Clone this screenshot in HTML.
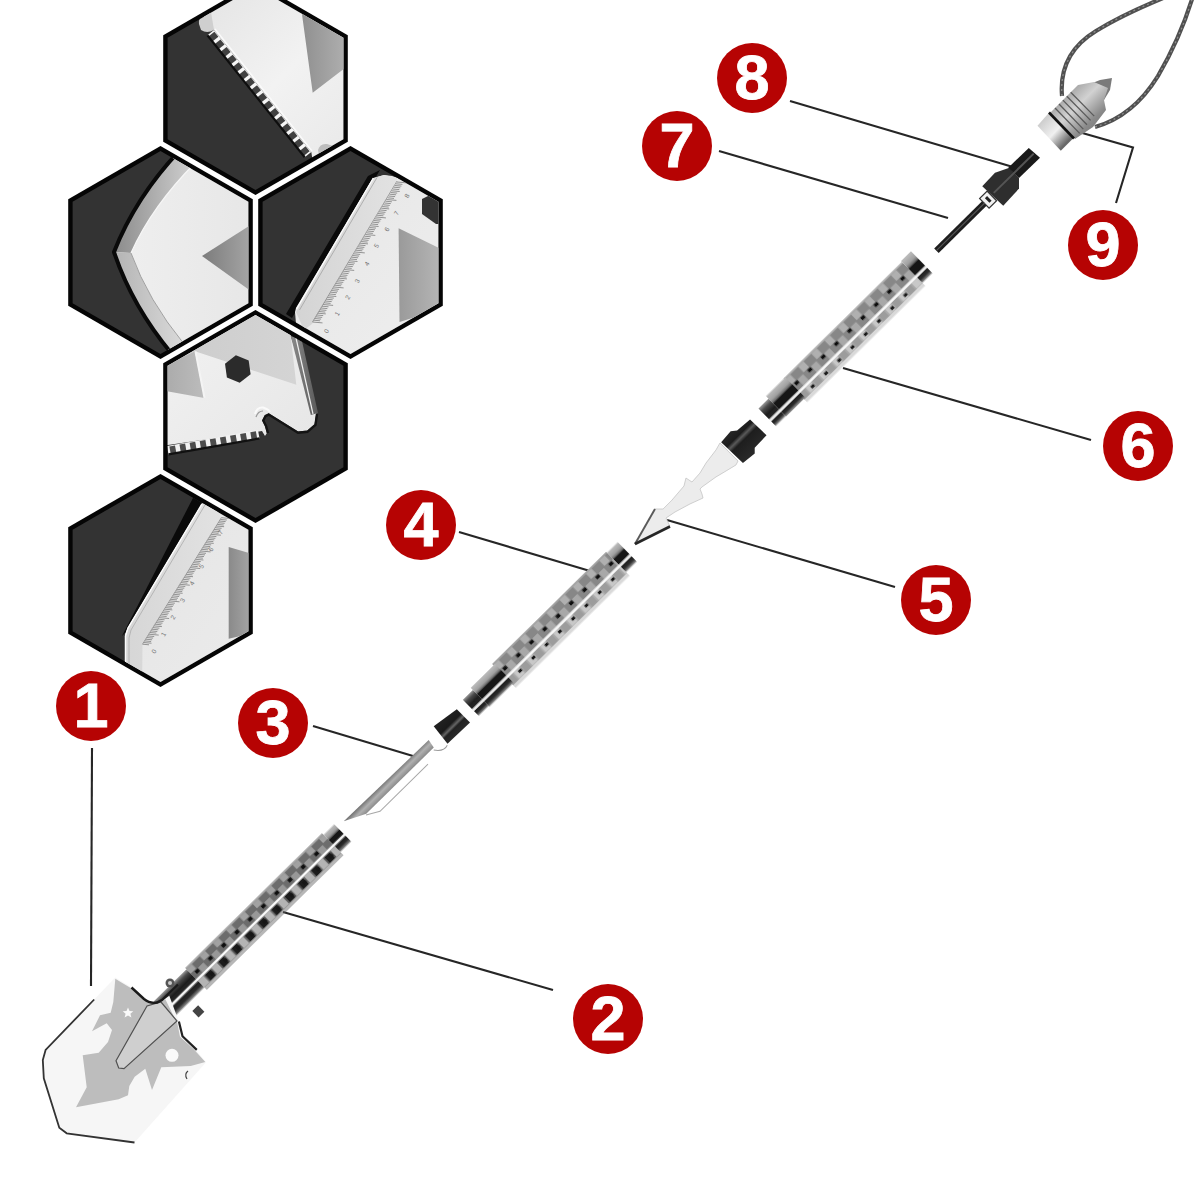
<!DOCTYPE html>
<html><head><meta charset="utf-8"><style>html,body{margin:0;padding:0;background:#fff;width:1200px;height:1200px;overflow:hidden}svg{display:block}</style></head>
<body><svg width="1200" height="1200" viewBox="0 0 1200 1200">
<defs><clipPath id="hc1"><polygon points="255.5,-13.0 343.4,37.7 343.4,139.3 255.5,190.0 167.6,139.3 167.6,37.7"/></clipPath><clipPath id="hc2"><polygon points="160.5,151.0 248.4,201.7 248.4,303.3 160.5,354.0 72.6,303.3 72.6,201.7"/></clipPath><clipPath id="hc3"><polygon points="350.5,151.0 438.4,201.7 438.4,303.3 350.5,354.0 262.6,303.3 262.6,201.7"/></clipPath><clipPath id="hc4"><polygon points="255.5,315.0 343.4,365.7 343.4,467.3 255.5,518.0 167.6,467.3 167.6,365.7"/></clipPath><clipPath id="hc5"><polygon points="160.5,479.0 248.4,529.7 248.4,631.3 160.5,682.0 72.6,631.3 72.6,529.7"/></clipPath>
<linearGradient id="g1body" x1="0" y1="0" x2="1" y2="1"><stop offset="0" stop-color="#e4e4e4"/><stop offset="0.5" stop-color="#f2f2f2"/><stop offset="1" stop-color="#e8e8e8"/></linearGradient>
<linearGradient id="g1tri" x1="0" y1="0" x2="1" y2="0"><stop offset="0" stop-color="#8f8f8f"/><stop offset="1" stop-color="#b9b9b9"/></linearGradient>
<linearGradient id="g2body" x1="0" y1="0" x2="1" y2="0"><stop offset="0" stop-color="#efefef"/><stop offset="1" stop-color="#e6e6e6"/></linearGradient>
<linearGradient id="g2up" x1="0" y1="0" x2="1" y2="0"><stop offset="0" stop-color="#8c8c8c"/><stop offset="1" stop-color="#d2d2d2"/></linearGradient>
<linearGradient id="g2lo" x1="0" y1="0" x2="1" y2="0"><stop offset="0" stop-color="#b4b4b4"/><stop offset="1" stop-color="#dadada"/></linearGradient>
<linearGradient id="g2tri" x1="0" y1="0" x2="1" y2="0"><stop offset="0" stop-color="#7c7c7c"/><stop offset="1" stop-color="#a6a6a6"/></linearGradient>
<linearGradient id="g3body" x1="0" y1="0" x2="1" y2="1"><stop offset="0" stop-color="#e6e6e6"/><stop offset="1" stop-color="#efefef"/></linearGradient>
<linearGradient id="g3band" x1="0" y1="0" x2="1" y2="0"><stop offset="0" stop-color="#d4d4d4"/><stop offset="1" stop-color="#e2e2e2"/></linearGradient>
<linearGradient id="g5band" x1="0" y1="0" x2="1" y2="0"><stop offset="0" stop-color="#d6d6d6"/><stop offset="1" stop-color="#e2e2e2"/></linearGradient>
<linearGradient id="g3panel" x1="0" y1="0" x2="1" y2="0"><stop offset="0" stop-color="#9a9a9a"/><stop offset="1" stop-color="#b8b8b8"/></linearGradient>
<linearGradient id="g4body" x1="0" y1="0" x2="1" y2="1"><stop offset="0" stop-color="#f4f4f4"/><stop offset="1" stop-color="#e6e6e6"/></linearGradient>
<linearGradient id="g4top" x1="0" y1="0" x2="1" y2="0"><stop offset="0" stop-color="#cbcbcb"/><stop offset="1" stop-color="#d4d4d4"/></linearGradient>
<linearGradient id="g4left" x1="0" y1="0" x2="1" y2="0"><stop offset="0" stop-color="#a4a4a4"/><stop offset="1" stop-color="#bcbcbc"/></linearGradient>
<linearGradient id="g4mid" x1="0" y1="0" x2="1" y2="0"><stop offset="0" stop-color="#e4e4e4"/><stop offset="1" stop-color="#bcbcbc"/></linearGradient>
<linearGradient id="g4strip" x1="0" y1="0" x2="1" y2="0"><stop offset="0" stop-color="#8a8a8a"/><stop offset="1" stop-color="#5a5a5a"/></linearGradient>
<linearGradient id="g5body" x1="0" y1="0" x2="1" y2="1"><stop offset="0" stop-color="#e4e4e4"/><stop offset="1" stop-color="#ececec"/></linearGradient>
<linearGradient id="g5panel" x1="0" y1="0" x2="1" y2="0"><stop offset="0" stop-color="#8a8a8a"/><stop offset="1" stop-color="#b0b0b0"/></linearGradient>

<linearGradient id="kgrad" x1="0" y1="0" x2="0" y2="1"><stop offset="0" stop-color="#666"/><stop offset="0.5" stop-color="#888"/><stop offset="1" stop-color="#bbb"/></linearGradient>
<linearGradient id="cgradU" x1="0" y1="0" x2="0" y2="1"><stop offset="0" stop-color="#9a9a9a"/><stop offset="0.25" stop-color="#4a4a4a"/><stop offset="0.6" stop-color="#1e1e1e"/><stop offset="1" stop-color="#2a2a2a"/></linearGradient>
<linearGradient id="cgradL" x1="0" y1="0" x2="0" y2="1"><stop offset="0" stop-color="#1a1a1a"/><stop offset="0.6" stop-color="#2a2a2a"/><stop offset="1" stop-color="#9a9a9a"/></linearGradient>
<linearGradient id="cgradLight" x1="0" y1="0" x2="0" y2="1"><stop offset="0" stop-color="#bdbdbd"/><stop offset="0.6" stop-color="#a0a0a0"/><stop offset="1" stop-color="#555"/></linearGradient>
<linearGradient id="dgrad65" x1="0" y1="0" x2="0" y2="1"><stop offset="0" stop-color="#262626"/><stop offset="0.26" stop-color="#1c1c1c"/><stop offset="0.36" stop-color="#5a5a5a"/><stop offset="0.47" stop-color="#1e1e1e"/><stop offset="1" stop-color="#2a2a2a"/></linearGradient>
<filter id="soft" x="-5%" y="-20%" width="110%" height="140%"><feGaussianBlur stdDeviation="0.75"/></filter>
<linearGradient id="dgrad" x1="0" y1="0" x2="0" y2="1"><stop offset="0" stop-color="#222"/><stop offset="0.45" stop-color="#1a1a1a"/><stop offset="0.6" stop-color="#666"/><stop offset="0.7" stop-color="#222"/><stop offset="1" stop-color="#2a2a2a"/></linearGradient>
<linearGradient id="b3grad" x1="0" y1="0" x2="0" y2="1"><stop offset="0" stop-color="#707070"/><stop offset="0.5" stop-color="#b0b0b0"/><stop offset="1" stop-color="#8a8a8a"/></linearGradient>
<linearGradient id="capgrad" x1="0" y1="0" x2="1" y2="1"><stop offset="0" stop-color="#707070"/><stop offset="0.45" stop-color="#d2d2d2"/><stop offset="0.7" stop-color="#8a8a8a"/><stop offset="1" stop-color="#666"/></linearGradient>
<linearGradient id="capgrad2" x1="0" y1="0" x2="1" y2="1"><stop offset="0" stop-color="#bbb"/><stop offset="0.5" stop-color="#f0f0f0"/><stop offset="0.8" stop-color="#666"/><stop offset="1" stop-color="#999"/></linearGradient>
</defs>
<rect width="1200" height="1200" fill="#fff"/>
<polygon points="255.5,-18.1 347.8,35.2 347.8,141.8 255.5,195.1 163.2,141.8 163.2,35.2" fill="#050505"/><g clip-path="url(#hc1)"><polygon points="255.5,-18.1 347.8,35.2 347.8,141.8 255.5,195.1 163.2,141.8 163.2,35.2" fill="#333"/><polygon points="202.0,14.0 214.0,30.0 311.3,152.0 313.0,163.0 360.0,140.0 360.0,0.0 195.0,0.0" fill="url(#g1body)"/><polygon points="301.0,0.0 302.3,16.6 312.7,92.7 345.0,68.0 360.0,60.0 360.0,0.0" fill="url(#g1tri)"/><path d="M199,24 Q198,17 205,14 L211,12 L214,30 Q207,34 201,30Z" fill="#cfcfcf"/><path d="M318,150 Q320,143 327,144 L333,146 L320,160Z" fill="#bdbdbd"/><polygon points="214.0,30.0 311.3,152.0 304.7,157.3 207.4,35.3" fill="#f6f6f6"/><polygon points="214.4,31.8 218.4,36.8 212.4,41.6 208.4,36.6" fill="#414141"/><polygon points="220.5,39.4 224.5,44.5 218.5,49.3 214.5,44.2" fill="#414141"/><polygon points="226.6,47.0 230.6,52.1 224.6,56.9 220.6,51.8" fill="#414141"/><polygon points="232.7,54.7 236.7,59.7 230.6,64.5 226.6,59.5" fill="#414141"/><polygon points="238.7,62.3 242.7,67.3 236.7,72.1 232.7,67.1" fill="#414141"/><polygon points="244.8,69.9 248.8,75.0 242.8,79.8 238.8,74.7" fill="#414141"/><polygon points="250.9,77.5 254.9,82.6 248.9,87.4 244.9,82.3" fill="#414141"/><polygon points="257.0,85.2 261.0,90.2 255.0,95.0 251.0,90.0" fill="#414141"/><polygon points="263.1,92.8 267.1,97.8 261.1,102.6 257.0,97.6" fill="#414141"/><polygon points="269.1,100.4 273.2,105.5 267.1,110.3 263.1,105.2" fill="#414141"/><polygon points="275.2,108.0 279.2,113.1 273.2,117.9 269.2,112.8" fill="#414141"/><polygon points="281.3,115.7 285.3,120.7 279.3,125.5 275.3,120.5" fill="#414141"/><polygon points="287.4,123.3 291.4,128.3 285.4,133.1 281.4,128.1" fill="#414141"/><polygon points="293.5,130.9 297.5,136.0 291.5,140.8 287.4,135.7" fill="#414141"/><polygon points="299.5,138.5 303.6,143.6 297.5,148.4 293.5,143.3" fill="#414141"/><polygon points="305.6,146.2 309.6,151.2 303.6,156.0 299.6,151.0" fill="#414141"/><polyline points="207.4,35.3 304.7,157.3" stroke="#0e0e0e" stroke-width="2.2" fill="none"/><polyline points="215.0,29.0 312.0,151.0" stroke="#fafafa" stroke-width="1.5" fill="none"/></g><polygon points="160.5,145.9 252.8,199.2 252.8,305.8 160.5,359.1 68.2,305.8 68.2,199.2" fill="#050505"/><g clip-path="url(#hc2)"><polygon points="160.5,145.9 252.8,199.2 252.8,305.8 160.5,359.1 68.2,305.8 68.2,199.2" fill="#333"/><path d="M180,150 Q136,196 115,252 Q132,306 172,354 L270,354 L270,150Z" fill="url(#g2body)"/><path d="M180,150 Q136,196 115,252 L131,253 Q152,206 196,162Z" fill="url(#g2up)"/><path d="M131,253 Q152,206 196,162" stroke="#f6f6f6" stroke-width="1.2" fill="none"/><path d="M115,252 Q132,306 170,352 L184,344 Q148,300 131,253Z" fill="url(#g2lo)"/><path d="M131,253 Q148,300 184,344" stroke="#9a9a9a" stroke-width="0.9" fill="none"/><path d="M182,148 Q136,196 114,252 Q132,306 172,354" stroke="#0a0a0a" stroke-width="4" fill="none"/><polygon points="202.0,256.0 252.0,224.0 252.0,292.0" fill="url(#g2tri)"/></g><polygon points="350.5,145.9 442.8,199.2 442.8,305.8 350.5,359.1 258.2,305.8 258.2,199.2" fill="#050505"/><g clip-path="url(#hc3)"><polygon points="350.5,145.9 442.8,199.2 442.8,305.8 350.5,359.1 258.2,305.8 258.2,199.2" fill="#333"/><polygon points="368.0,176.0 380.0,170.0 292.0,318.0 286.0,314.0" fill="#0a0a0a"/><polygon points="372.7,178.3 384.0,175.0 392.0,176.0 460.0,200.0 460.0,370.0 300.0,370.0 295.0,312.0 296.0,308.0" fill="url(#g3body)"/><polygon points="372.7,178.3 384.0,175.0 398.0,178.0 312.0,324.0 304.0,330.0 296.0,312.0" fill="url(#g3band)"/><polyline points="373.5,178.0 296.5,309.0" stroke="#fbfbfb" stroke-width="1.4" fill="none"/><polyline points="377.0,177.5 299.5,310.0" stroke="#a8a8a8" stroke-width="0.9" fill="none"/><polyline points="397.0,181.0 312.5,322.0" stroke="#9a9a9a" stroke-width="0.9" fill="none"/><polygon points="398.6,228.2 445.0,251.0 445.0,308.0 399.5,322.1" fill="url(#g3panel)"/><polygon points="422.0,199.0 440.0,190.0 445.0,192.0 445.0,224.0 436.0,224.0 422.0,214.0" fill="#333"/><path d="M397.0,182.0l10.0,0.9M395.9,183.8l6.5,0.6M394.9,185.5l6.5,0.6M393.8,187.2l6.5,0.6M392.8,189.0l6.5,0.6M391.7,190.8l8.0,0.7M390.7,192.5l6.5,0.6M389.6,194.2l6.5,0.6M388.6,196.0l6.5,0.6M387.5,197.8l6.5,0.6M386.4,199.5l10.0,0.9M385.4,201.2l6.5,0.6M384.3,203.0l6.5,0.6M383.3,204.8l6.5,0.6M382.2,206.5l6.5,0.6M381.2,208.2l8.0,0.7M380.1,210.0l6.5,0.6M379.0,211.8l6.5,0.6M378.0,213.5l6.5,0.6M376.9,215.2l6.5,0.6M375.9,217.0l10.0,0.9M374.8,218.8l6.5,0.6M373.8,220.5l6.5,0.6M372.7,222.2l6.5,0.6M371.6,224.0l6.5,0.6M370.6,225.8l8.0,0.7M369.5,227.5l6.5,0.6M368.5,229.2l6.5,0.6M367.4,231.0l6.5,0.6M366.4,232.8l6.5,0.6M365.3,234.5l10.0,0.9M364.3,236.2l6.5,0.6M363.2,238.0l6.5,0.6M362.1,239.8l6.5,0.6M361.1,241.5l6.5,0.6M360.0,243.2l8.0,0.7M359.0,245.0l6.5,0.6M357.9,246.8l6.5,0.6M356.9,248.5l6.5,0.6M355.8,250.2l6.5,0.6M354.8,252.0l10.0,0.9M353.7,253.8l6.5,0.6M352.6,255.5l6.5,0.6M351.6,257.2l6.5,0.6M350.5,259.0l6.5,0.6M349.5,260.8l8.0,0.7M348.4,262.5l6.5,0.6M347.4,264.2l6.5,0.6M346.3,266.0l6.5,0.6M345.2,267.8l6.5,0.6M344.2,269.5l10.0,0.9M343.1,271.2l6.5,0.6M342.1,273.0l6.5,0.6M341.0,274.8l6.5,0.6M340.0,276.5l6.5,0.6M338.9,278.2l8.0,0.7M337.9,280.0l6.5,0.6M336.8,281.8l6.5,0.6M335.7,283.5l6.5,0.6M334.7,285.2l6.5,0.6M333.6,287.0l10.0,0.9M332.6,288.8l6.5,0.6M331.5,290.5l6.5,0.6M330.5,292.2l6.5,0.6M329.4,294.0l6.5,0.6M328.3,295.8l8.0,0.7M327.3,297.5l6.5,0.6M326.2,299.2l6.5,0.6M325.2,301.0l6.5,0.6M324.1,302.8l6.5,0.6M323.1,304.5l10.0,0.9M322.0,306.2l6.5,0.6M320.9,308.0l6.5,0.6M319.9,309.8l6.5,0.6M318.8,311.5l6.5,0.6M317.8,313.2l8.0,0.7M316.7,315.0l6.5,0.6M315.7,316.8l6.5,0.6M314.6,318.5l6.5,0.6M313.6,320.2l6.5,0.6M312.5,322.0l10.0,0.9" stroke="#7c7c7c" stroke-width="0.8" fill="none"/><text x="327.6" y="333.7" transform="rotate(-60 327.6 333.7)" font-family="Liberation Sans" font-size="6.5" fill="#727272">0</text><text x="338.2" y="316.4" transform="rotate(-60 338.2 316.4)" font-family="Liberation Sans" font-size="6.5" fill="#727272">1</text><text x="348.7" y="300" transform="rotate(-60 348.7 300)" font-family="Liberation Sans" font-size="6.5" fill="#727272">2</text><text x="358.3" y="283.8" transform="rotate(-60 358.3 283.8)" font-family="Liberation Sans" font-size="6.5" fill="#727272">3</text><text x="367.9" y="266.6" transform="rotate(-60 367.9 266.6)" font-family="Liberation Sans" font-size="6.5" fill="#727272">4</text><text x="377.5" y="248.4" transform="rotate(-60 377.5 248.4)" font-family="Liberation Sans" font-size="6.5" fill="#727272">5</text><text x="388" y="232" transform="rotate(-60 388 232)" font-family="Liberation Sans" font-size="6.5" fill="#727272">6</text><text x="397.6" y="215.8" transform="rotate(-60 397.6 215.8)" font-family="Liberation Sans" font-size="6.5" fill="#727272">7</text><text x="408.1" y="198.5" transform="rotate(-60 408.1 198.5)" font-family="Liberation Sans" font-size="6.5" fill="#727272">8</text></g><polygon points="255.5,309.9 347.8,363.2 347.8,469.8 255.5,523.1 163.2,469.8 163.2,363.2" fill="#050505"/><g clip-path="url(#hc4)"><polygon points="255.5,309.9 347.8,363.2 347.8,469.8 255.5,523.1 163.2,469.8 163.2,363.2" fill="#333"/><polygon points="150.0,290.0 288.0,290.0 290.7,336.0 316.3,413.2 314.5,424.2 307.2,430.6 298.0,431.5 268.7,413.2 265.0,415.0 262.2,420.5 265.0,426.0 266.8,433.3 265.0,436.0 262.0,431.0 168.0,445.0 150.0,448.0" fill="url(#g4body)"/><polygon points="150.0,290.0 288.0,290.0 290.7,336.0 296.3,384.7 195.0,351.3 150.0,372.0" fill="url(#g4top)"/><polygon points="150.0,372.0 195.0,351.3 204.3,398.0 150.0,388.0" fill="url(#g4left)"/><polyline points="195.5,351.5 204.5,398.0" stroke="#f4f4f4" stroke-width="2" fill="none"/><polygon points="290.7,336.0 301.7,339.8 318.0,413.0 310.8,415.0" fill="url(#g4strip)"/><polyline points="296.0,338.0 313.0,414.0" stroke="#f0f0f0" stroke-width="1.2" fill="none"/><polygon points="250.6,374.2 239.7,382.7 226.9,377.5 225.0,363.8 235.9,355.3 248.7,360.5" fill="#2b2b2b"/><polyline points="317.0,414.0 315.5,425.0 307.5,431.8 298.0,432.8 268.7,414.6 265.5,416.2 263.3,420.5 266.0,426.0 268.0,433.0" stroke="#141414" stroke-width="2.4" fill="none"/><path d="M255,414 Q257,407 263,407.5 Q268,409 270,412" stroke="#fafafa" stroke-width="2" fill="none"/><path d="M256,417 Q258,411 263,411" stroke="#9a9a9a" stroke-width="1.2" fill="none"/><polygon points="167.0,446.0 258.0,430.0 259.5,438.4 168.5,454.4" fill="#f2f2f2"/><polygon points="169.4,446.4 175.0,445.4 176.4,453.0 170.7,454.0" fill="#4c4c4c"/><polygon points="179.5,444.6 185.1,443.6 186.5,451.2 180.8,452.2" fill="#4c4c4c"/><polygon points="189.6,442.8 195.2,441.8 196.6,449.4 190.9,450.4" fill="#4c4c4c"/><polygon points="199.7,441.1 205.4,440.1 206.7,447.7 201.0,448.6" fill="#4c4c4c"/><polygon points="209.8,439.3 215.5,438.3 216.8,445.9 211.1,446.9" fill="#4c4c4c"/><polygon points="219.9,437.5 225.6,436.5 226.9,444.1 221.3,445.1" fill="#4c4c4c"/><polygon points="230.0,435.7 235.7,434.7 237.0,442.3 231.4,443.3" fill="#4c4c4c"/><polygon points="240.1,434.0 245.8,433.0 247.1,440.5 241.5,441.5" fill="#4c4c4c"/><polygon points="250.3,432.2 255.9,431.2 257.2,438.8 251.6,439.8" fill="#4c4c4c"/><polyline points="168.5,454.4 259.5,438.4" stroke="#111" stroke-width="2.2" fill="none"/></g><polygon points="160.5,473.9 252.8,527.2 252.8,633.8 160.5,687.1 68.2,633.8 68.2,527.2" fill="#050505"/><g clip-path="url(#hc5)"><polygon points="160.5,473.9 252.8,527.2 252.8,633.8 160.5,687.1 68.2,633.8 68.2,527.2" fill="#333"/><polygon points="194.0,496.0 206.0,499.0 128.0,630.0 122.0,636.0" fill="#0a0a0a"/><polygon points="201.2,504.8 210.0,490.0 270.0,490.0 270.0,700.0 125.0,700.0 125.0,660.7 125.0,635.0 127.8,627.7" fill="url(#g5body)"/><polygon points="201.2,504.8 210.0,498.0 221.3,517.7 142.5,644.2 142.0,700.0 125.0,700.0 125.0,635.0 127.8,627.7" fill="url(#g5band)"/><polyline points="202.0,504.0 128.0,628.0 125.5,636.0 125.5,700.0" stroke="#fbfbfb" stroke-width="1.5" fill="none"/><polyline points="205.0,505.0 131.0,630.0 129.0,638.0 129.0,700.0" stroke="#b0b0b0" stroke-width="0.9" fill="none"/><polyline points="221.3,517.7 142.5,644.2" stroke="#a0a0a0" stroke-width="0.9" fill="none"/><polygon points="228.7,547.0 260.0,556.2 260.0,631.3 228.7,638.7" fill="url(#g5panel)"/><path d="M221.3,517.7l10.0,0.9M220.3,519.4l6.5,0.6M219.2,521.0l6.5,0.6M218.2,522.7l6.5,0.6M217.2,524.4l6.5,0.6M216.1,526.0l8.0,0.7M215.1,527.7l6.5,0.6M214.0,529.4l6.5,0.6M213.0,531.0l6.5,0.6M212.0,532.7l6.5,0.6M210.9,534.3l10.0,0.9M209.9,536.0l6.5,0.6M208.9,537.7l6.5,0.6M207.8,539.3l6.5,0.6M206.8,541.0l6.5,0.6M205.7,542.7l8.0,0.7M204.7,544.3l6.5,0.6M203.7,546.0l6.5,0.6M202.6,547.7l6.5,0.6M201.6,549.3l6.5,0.6M200.6,551.0l10.0,0.9M199.5,552.7l6.5,0.6M198.5,554.3l6.5,0.6M197.5,556.0l6.5,0.6M196.4,557.6l6.5,0.6M195.4,559.3l8.0,0.7M194.3,561.0l6.5,0.6M193.3,562.6l6.5,0.6M192.3,564.3l6.5,0.6M191.2,566.0l6.5,0.6M190.2,567.6l10.0,0.9M189.2,569.3l6.5,0.6M188.1,571.0l6.5,0.6M187.1,572.6l6.5,0.6M186.0,574.3l6.5,0.6M185.0,576.0l8.0,0.7M184.0,577.6l6.5,0.6M182.9,579.3l6.5,0.6M181.9,581.0l6.5,0.6M180.9,582.6l6.5,0.6M179.8,584.3l10.0,0.9M178.8,585.9l6.5,0.6M177.8,587.6l6.5,0.6M176.7,589.3l6.5,0.6M175.7,590.9l6.5,0.6M174.6,592.6l8.0,0.7M173.6,594.3l6.5,0.6M172.6,595.9l6.5,0.6M171.5,597.6l6.5,0.6M170.5,599.3l6.5,0.6M169.5,600.9l10.0,0.9M168.4,602.6l6.5,0.6M167.4,604.3l6.5,0.6M166.3,605.9l6.5,0.6M165.3,607.6l6.5,0.6M164.3,609.2l8.0,0.7M163.2,610.9l6.5,0.6M162.2,612.6l6.5,0.6M161.2,614.2l6.5,0.6M160.1,615.9l6.5,0.6M159.1,617.6l10.0,0.9M158.1,619.2l6.5,0.6M157.0,620.9l6.5,0.6M156.0,622.6l6.5,0.6M154.9,624.2l6.5,0.6M153.9,625.9l8.0,0.7M152.9,627.6l6.5,0.6M151.8,629.2l6.5,0.6M150.8,630.9l6.5,0.6M149.8,632.5l6.5,0.6M148.7,634.2l10.0,0.9M147.7,635.9l6.5,0.6M146.6,637.5l6.5,0.6M145.6,639.2l6.5,0.6M144.6,640.9l6.5,0.6M143.5,642.5l8.0,0.7M142.5,644.2l6.5,0.6" stroke="#7c7c7c" stroke-width="0.8" fill="none"/><text x="155" y="654" transform="rotate(-60 155 654)" font-family="Liberation Sans" font-size="6.5" fill="#727272">0</text><text x="164.5" y="637" transform="rotate(-60 164.5 637)" font-family="Liberation Sans" font-size="6.5" fill="#727272">1</text><text x="174" y="620" transform="rotate(-60 174 620)" font-family="Liberation Sans" font-size="6.5" fill="#727272">2</text><text x="183.5" y="603" transform="rotate(-60 183.5 603)" font-family="Liberation Sans" font-size="6.5" fill="#727272">3</text><text x="193" y="586" transform="rotate(-60 193 586)" font-family="Liberation Sans" font-size="6.5" fill="#727272">4</text><text x="202.5" y="569" transform="rotate(-60 202.5 569)" font-family="Liberation Sans" font-size="6.5" fill="#727272">5</text><text x="212" y="552" transform="rotate(-60 212 552)" font-family="Liberation Sans" font-size="6.5" fill="#727272">6</text><text x="221.5" y="535" transform="rotate(-60 221.5 535)" font-family="Liberation Sans" font-size="6.5" fill="#727272">7</text><text x="231" y="518" transform="rotate(-60 231 518)" font-family="Liberation Sans" font-size="6.5" fill="#727272">8</text></g>
<polyline points="92,748 91,986" fill="none" stroke="#262626" stroke-width="2.1"/><polyline points="283,912 553,990" fill="none" stroke="#262626" stroke-width="2.1"/><polyline points="313,726 413,756" fill="none" stroke="#262626" stroke-width="2.1"/><polyline points="459,532 590,571" fill="none" stroke="#262626" stroke-width="2.1"/><polyline points="895,587 667,520" fill="none" stroke="#262626" stroke-width="2.1"/><polyline points="1091,440 843,368" fill="none" stroke="#262626" stroke-width="2.1"/><polyline points="719,151 948,218" fill="none" stroke="#262626" stroke-width="2.1"/><polyline points="790,101 1013,167" fill="none" stroke="#262626" stroke-width="2.1"/><polyline points="1077,131.5 1133,147.5 1116,203" fill="none" stroke="#262626" stroke-width="2.1"/>
<g transform="translate(921.5,262) rotate(-44.57)"><g filter="url(#soft)"><rect x="-180" y="-13.5" width="166" height="20.0" fill="#878787"/><rect x="-180" y="6.5" width="166" height="9.5" fill="#ababab"/><rect x="-180" y="15.9" width="166" height="3.6" fill="#ababab" opacity="0.45"/><rect x="-180" y="-13.5" width="166" height="1.6" fill="#b8b8b8" opacity="0.7"/><rect x="-180.0" y="-11.9" width="7.5" height="7.8" fill="#b0b0b0"/><rect x="-180.0" y="8.1" width="7.5" height="7.5" fill="#9c9c9c"/><rect x="-170.7" y="-3.3" width="7.5" height="8.4" fill="#a8a8a8"/><rect x="-170.7" y="8.1" width="7.5" height="7.5" fill="#c8c8c8"/><rect x="-161.4" y="-11.9" width="7.5" height="7.8" fill="#b0b0b0"/><rect x="-161.4" y="8.1" width="7.5" height="7.5" fill="#9c9c9c"/><rect x="-152.1" y="-3.3" width="7.5" height="8.4" fill="#a8a8a8"/><rect x="-152.1" y="8.1" width="7.5" height="7.5" fill="#c8c8c8"/><rect x="-142.8" y="-11.9" width="7.5" height="7.8" fill="#b0b0b0"/><rect x="-142.8" y="8.1" width="7.5" height="7.5" fill="#9c9c9c"/><rect x="-133.5" y="-3.3" width="7.5" height="8.4" fill="#a8a8a8"/><rect x="-133.5" y="8.1" width="7.5" height="7.5" fill="#c8c8c8"/><rect x="-124.2" y="-11.9" width="7.5" height="7.8" fill="#b0b0b0"/><rect x="-124.2" y="8.1" width="7.5" height="7.5" fill="#9c9c9c"/><rect x="-114.9" y="-3.3" width="7.5" height="8.4" fill="#a8a8a8"/><rect x="-114.9" y="8.1" width="7.5" height="7.5" fill="#c8c8c8"/><rect x="-105.6" y="-11.9" width="7.5" height="7.8" fill="#b0b0b0"/><rect x="-105.6" y="8.1" width="7.5" height="7.5" fill="#9c9c9c"/><rect x="-96.3" y="-3.3" width="7.5" height="8.4" fill="#a8a8a8"/><rect x="-96.3" y="8.1" width="7.5" height="7.5" fill="#c8c8c8"/><rect x="-87.0" y="-11.9" width="7.5" height="7.8" fill="#b0b0b0"/><rect x="-87.0" y="8.1" width="7.5" height="7.5" fill="#9c9c9c"/><rect x="-77.7" y="-3.3" width="7.5" height="8.4" fill="#a8a8a8"/><rect x="-77.7" y="8.1" width="7.5" height="7.5" fill="#c8c8c8"/><rect x="-68.4" y="-11.9" width="7.5" height="7.8" fill="#b0b0b0"/><rect x="-68.4" y="8.1" width="7.5" height="7.5" fill="#9c9c9c"/><rect x="-59.1" y="-3.3" width="7.5" height="8.4" fill="#a8a8a8"/><rect x="-59.1" y="8.1" width="7.5" height="7.5" fill="#c8c8c8"/><rect x="-49.8" y="-11.9" width="7.5" height="7.8" fill="#b0b0b0"/><rect x="-49.8" y="8.1" width="7.5" height="7.5" fill="#9c9c9c"/><rect x="-40.5" y="-3.3" width="7.5" height="8.4" fill="#a8a8a8"/><rect x="-40.5" y="8.1" width="7.5" height="7.5" fill="#c8c8c8"/><rect x="-31.2" y="-11.9" width="7.5" height="7.8" fill="#b0b0b0"/><rect x="-31.2" y="8.1" width="7.5" height="7.5" fill="#9c9c9c"/><rect x="-21.9" y="-3.3" width="7.5" height="8.4" fill="#a8a8a8"/><rect x="-21.9" y="8.1" width="7.5" height="7.5" fill="#c8c8c8"/><rect x="-176.0" y="-3.3" width="4.6" height="3.6" fill="#0c0c0c"/><rect x="-166.7" y="10.6" width="4.0" height="3.2" fill="#121212"/><rect x="-157.4" y="-3.3" width="4.6" height="3.6" fill="#0c0c0c"/><rect x="-148.1" y="10.6" width="4.0" height="3.2" fill="#121212"/><rect x="-138.8" y="-3.3" width="4.6" height="3.6" fill="#0c0c0c"/><rect x="-129.5" y="10.6" width="4.0" height="3.2" fill="#121212"/><rect x="-120.2" y="-3.3" width="4.6" height="3.6" fill="#0c0c0c"/><rect x="-110.9" y="10.6" width="4.0" height="3.2" fill="#121212"/><rect x="-101.6" y="-3.3" width="4.6" height="3.6" fill="#0c0c0c"/><rect x="-92.3" y="10.6" width="4.0" height="3.2" fill="#121212"/><rect x="-83.0" y="-3.3" width="4.6" height="3.6" fill="#0c0c0c"/><rect x="-73.7" y="10.6" width="4.0" height="3.2" fill="#121212"/><rect x="-64.4" y="-3.3" width="4.6" height="3.6" fill="#0c0c0c"/><rect x="-55.1" y="10.6" width="4.0" height="3.2" fill="#121212"/><rect x="-45.8" y="-3.3" width="4.6" height="3.6" fill="#0c0c0c"/><rect x="-36.5" y="10.6" width="4.0" height="3.2" fill="#121212"/><rect x="-27.2" y="-3.3" width="4.6" height="3.6" fill="#0c0c0c"/><rect x="-180" y="5.3" width="166" height="2.6" fill="#fbfbfb"/></g><g filter="url(#soft)"><rect x="-14" y="-15" width="14" height="11.25" fill="url(#cgradLight)"/><rect x="-14" y="-4.25" width="14" height="10.75" fill="#161616"/><rect x="-14" y="6.5" width="14" height="9.0" fill="url(#cgradL)"/><rect x="-14" y="5.3" width="14" height="2.6" fill="#f4f4f4"/></g><g filter="url(#soft)"><rect x="-205" y="-13.5" width="27" height="10.5" fill="url(#cgradLight)"/><rect x="-205" y="-3.5" width="27" height="10.0" fill="#161616"/><rect x="-205" y="6.5" width="27" height="8.5" fill="url(#cgradL)"/><rect x="-205" y="5.3" width="27" height="2.6" fill="#f4f4f4"/></g><g filter="url(#soft)"><rect x="-219" y="-10" width="14" height="16.5" fill="url(#cgradU)"/><rect x="-219" y="6.5" width="14" height="8.0" fill="url(#cgradL)"/><rect x="-219" y="5.3" width="14" height="2.6" fill="#f4f4f4"/></g><g filter="url(#soft)"><rect x="-588" y="-15" width="160" height="19.5" fill="#878787"/><rect x="-588" y="4.5" width="160" height="10.5" fill="#ababab"/><rect x="-588" y="14.9" width="160" height="3.6" fill="#ababab" opacity="0.45"/><rect x="-588" y="-15" width="160" height="1.6" fill="#b8b8b8" opacity="0.7"/><rect x="-588.0" y="-13.4" width="7.5" height="7.5" fill="#b0b0b0"/><rect x="-588.0" y="6.1" width="7.5" height="8.5" fill="#9c9c9c"/><rect x="-578.7" y="-5.0" width="7.5" height="8.2" fill="#a8a8a8"/><rect x="-578.7" y="6.1" width="7.5" height="8.5" fill="#c8c8c8"/><rect x="-569.4" y="-13.4" width="7.5" height="7.5" fill="#b0b0b0"/><rect x="-569.4" y="6.1" width="7.5" height="8.5" fill="#9c9c9c"/><rect x="-560.1" y="-5.0" width="7.5" height="8.2" fill="#a8a8a8"/><rect x="-560.1" y="6.1" width="7.5" height="8.5" fill="#c8c8c8"/><rect x="-550.8" y="-13.4" width="7.5" height="7.5" fill="#b0b0b0"/><rect x="-550.8" y="6.1" width="7.5" height="8.5" fill="#9c9c9c"/><rect x="-541.5" y="-5.0" width="7.5" height="8.2" fill="#a8a8a8"/><rect x="-541.5" y="6.1" width="7.5" height="8.5" fill="#c8c8c8"/><rect x="-532.2" y="-13.4" width="7.5" height="7.5" fill="#b0b0b0"/><rect x="-532.2" y="6.1" width="7.5" height="8.5" fill="#9c9c9c"/><rect x="-522.9" y="-5.0" width="7.5" height="8.2" fill="#a8a8a8"/><rect x="-522.9" y="6.1" width="7.5" height="8.5" fill="#c8c8c8"/><rect x="-513.6" y="-13.4" width="7.5" height="7.5" fill="#b0b0b0"/><rect x="-513.6" y="6.1" width="7.5" height="8.5" fill="#9c9c9c"/><rect x="-504.3" y="-5.0" width="7.5" height="8.2" fill="#a8a8a8"/><rect x="-504.3" y="6.1" width="7.5" height="8.5" fill="#c8c8c8"/><rect x="-495.0" y="-13.4" width="7.5" height="7.5" fill="#b0b0b0"/><rect x="-495.0" y="6.1" width="7.5" height="8.5" fill="#9c9c9c"/><rect x="-485.7" y="-5.0" width="7.5" height="8.2" fill="#a8a8a8"/><rect x="-485.7" y="6.1" width="7.5" height="8.5" fill="#c8c8c8"/><rect x="-476.4" y="-13.4" width="7.5" height="7.5" fill="#b0b0b0"/><rect x="-476.4" y="6.1" width="7.5" height="8.5" fill="#9c9c9c"/><rect x="-467.1" y="-5.0" width="7.5" height="8.2" fill="#a8a8a8"/><rect x="-467.1" y="6.1" width="7.5" height="8.5" fill="#c8c8c8"/><rect x="-457.8" y="-13.4" width="7.5" height="7.5" fill="#b0b0b0"/><rect x="-457.8" y="6.1" width="7.5" height="8.5" fill="#9c9c9c"/><rect x="-448.5" y="-5.0" width="7.5" height="8.2" fill="#a8a8a8"/><rect x="-448.5" y="6.1" width="7.5" height="8.5" fill="#c8c8c8"/><rect x="-439.2" y="-13.4" width="7.5" height="7.5" fill="#b0b0b0"/><rect x="-439.2" y="6.1" width="7.5" height="8.5" fill="#9c9c9c"/><rect x="-429.9" y="-5.0" width="1.9" height="8.2" fill="#a8a8a8"/><rect x="-429.9" y="6.1" width="1.9" height="8.5" fill="#c8c8c8"/><rect x="-584.0" y="-4.7" width="4.6" height="3.6" fill="#0c0c0c"/><rect x="-574.7" y="7.9" width="4.0" height="3.2" fill="#121212"/><rect x="-565.4" y="-4.7" width="4.6" height="3.6" fill="#0c0c0c"/><rect x="-556.1" y="7.9" width="4.0" height="3.2" fill="#121212"/><rect x="-546.8" y="-4.7" width="4.6" height="3.6" fill="#0c0c0c"/><rect x="-537.5" y="7.9" width="4.0" height="3.2" fill="#121212"/><rect x="-528.2" y="-4.7" width="4.6" height="3.6" fill="#0c0c0c"/><rect x="-518.9" y="7.9" width="4.0" height="3.2" fill="#121212"/><rect x="-509.6" y="-4.7" width="4.6" height="3.6" fill="#0c0c0c"/><rect x="-500.3" y="7.9" width="4.0" height="3.2" fill="#121212"/><rect x="-491.0" y="-4.7" width="4.6" height="3.6" fill="#0c0c0c"/><rect x="-481.7" y="7.9" width="4.0" height="3.2" fill="#121212"/><rect x="-472.4" y="-4.7" width="4.6" height="3.6" fill="#0c0c0c"/><rect x="-463.1" y="7.9" width="4.0" height="3.2" fill="#121212"/><rect x="-453.8" y="-4.7" width="4.6" height="3.6" fill="#0c0c0c"/><rect x="-444.5" y="7.9" width="4.0" height="3.2" fill="#121212"/><rect x="-435.2" y="-4.7" width="4.6" height="3.6" fill="#0c0c0c"/><rect x="-588" y="3.3" width="160" height="2.6" fill="#fbfbfb"/></g><g filter="url(#soft)"><rect x="-428" y="-13.5" width="15" height="9.5" fill="url(#cgradLight)"/><rect x="-428" y="-4.5" width="15" height="9.0" fill="#161616"/><rect x="-428" y="4.5" width="15" height="9.0" fill="url(#cgradL)"/><rect x="-428" y="3.3" width="15" height="2.6" fill="#f4f4f4"/></g><g filter="url(#soft)"><rect x="-620" y="-13" width="34" height="9.25" fill="url(#cgradLight)"/><rect x="-620" y="-4.25" width="34" height="8.75" fill="#161616"/><rect x="-620" y="4.5" width="34" height="9.0" fill="url(#cgradL)"/><rect x="-620" y="3.3" width="34" height="2.6" fill="#f4f4f4"/></g><g filter="url(#soft)"><rect x="-634" y="-10" width="14" height="14.5" fill="url(#cgradU)"/><rect x="-634" y="4.5" width="14" height="8.0" fill="url(#cgradL)"/><rect x="-634" y="3.3" width="14" height="2.6" fill="#f4f4f4"/></g><g filter="url(#soft)"><rect x="-1020" y="-13.5" width="192" height="16.5" fill="#6c6c6c"/><rect x="-1020" y="3" width="192" height="10.5" fill="#5e5e5e"/><rect x="-1020" y="13.4" width="192" height="3.6" fill="#5e5e5e" opacity="0.45"/><rect x="-1020" y="-13.5" width="192" height="1.6" fill="#b8b8b8" opacity="0.7"/><rect x="-1020.0" y="-11.9" width="7.5" height="6.0" fill="#a2a2a2"/><rect x="-1020.0" y="4.6" width="7.5" height="8.5" fill="#b4b4b4"/><rect x="-1010.7" y="-5.0" width="7.5" height="6.7" fill="#989898"/><rect x="-1010.7" y="4.6" width="7.5" height="8.5" fill="#1c1c1c"/><rect x="-1001.4" y="-11.9" width="7.5" height="6.0" fill="#a2a2a2"/><rect x="-1001.4" y="4.6" width="7.5" height="8.5" fill="#b4b4b4"/><rect x="-992.1" y="-5.0" width="7.5" height="6.7" fill="#989898"/><rect x="-992.1" y="4.6" width="7.5" height="8.5" fill="#1c1c1c"/><rect x="-982.8" y="-11.9" width="7.5" height="6.0" fill="#a2a2a2"/><rect x="-982.8" y="4.6" width="7.5" height="8.5" fill="#b4b4b4"/><rect x="-973.5" y="-5.0" width="7.5" height="6.7" fill="#989898"/><rect x="-973.5" y="4.6" width="7.5" height="8.5" fill="#1c1c1c"/><rect x="-964.2" y="-11.9" width="7.5" height="6.0" fill="#a2a2a2"/><rect x="-964.2" y="4.6" width="7.5" height="8.5" fill="#b4b4b4"/><rect x="-954.9" y="-5.0" width="7.5" height="6.7" fill="#989898"/><rect x="-954.9" y="4.6" width="7.5" height="8.5" fill="#1c1c1c"/><rect x="-945.6" y="-11.9" width="7.5" height="6.0" fill="#a2a2a2"/><rect x="-945.6" y="4.6" width="7.5" height="8.5" fill="#b4b4b4"/><rect x="-936.3" y="-5.0" width="7.5" height="6.7" fill="#989898"/><rect x="-936.3" y="4.6" width="7.5" height="8.5" fill="#1c1c1c"/><rect x="-927.0" y="-11.9" width="7.5" height="6.0" fill="#a2a2a2"/><rect x="-927.0" y="4.6" width="7.5" height="8.5" fill="#b4b4b4"/><rect x="-917.7" y="-5.0" width="7.5" height="6.7" fill="#989898"/><rect x="-917.7" y="4.6" width="7.5" height="8.5" fill="#1c1c1c"/><rect x="-908.4" y="-11.9" width="7.5" height="6.0" fill="#a2a2a2"/><rect x="-908.4" y="4.6" width="7.5" height="8.5" fill="#b4b4b4"/><rect x="-899.1" y="-5.0" width="7.5" height="6.7" fill="#989898"/><rect x="-899.1" y="4.6" width="7.5" height="8.5" fill="#1c1c1c"/><rect x="-889.8" y="-11.9" width="7.5" height="6.0" fill="#a2a2a2"/><rect x="-889.8" y="4.6" width="7.5" height="8.5" fill="#b4b4b4"/><rect x="-880.5" y="-5.0" width="7.5" height="6.7" fill="#989898"/><rect x="-880.5" y="4.6" width="7.5" height="8.5" fill="#1c1c1c"/><rect x="-871.2" y="-11.9" width="7.5" height="6.0" fill="#a2a2a2"/><rect x="-871.2" y="4.6" width="7.5" height="8.5" fill="#b4b4b4"/><rect x="-861.9" y="-5.0" width="7.5" height="6.7" fill="#989898"/><rect x="-861.9" y="4.6" width="7.5" height="8.5" fill="#1c1c1c"/><rect x="-852.6" y="-11.9" width="7.5" height="6.0" fill="#a2a2a2"/><rect x="-852.6" y="4.6" width="7.5" height="8.5" fill="#b4b4b4"/><rect x="-843.3" y="-5.0" width="7.5" height="6.7" fill="#989898"/><rect x="-843.3" y="4.6" width="7.5" height="8.5" fill="#1c1c1c"/><rect x="-834.0" y="-11.9" width="6.0" height="6.0" fill="#a2a2a2"/><rect x="-834.0" y="4.6" width="6.0" height="8.5" fill="#b4b4b4"/><rect x="-1016.0" y="-4.8" width="4.6" height="3.6" fill="#0c0c0c"/><rect x="-1006.7" y="7.4" width="4.0" height="3.2" fill="#121212"/><rect x="-997.4" y="-4.8" width="4.6" height="3.6" fill="#0c0c0c"/><rect x="-988.1" y="7.4" width="4.0" height="3.2" fill="#121212"/><rect x="-978.8" y="-4.8" width="4.6" height="3.6" fill="#0c0c0c"/><rect x="-969.5" y="7.4" width="4.0" height="3.2" fill="#121212"/><rect x="-960.2" y="-4.8" width="4.6" height="3.6" fill="#0c0c0c"/><rect x="-950.9" y="7.4" width="4.0" height="3.2" fill="#121212"/><rect x="-941.6" y="-4.8" width="4.6" height="3.6" fill="#0c0c0c"/><rect x="-932.3" y="7.4" width="4.0" height="3.2" fill="#121212"/><rect x="-923.0" y="-4.8" width="4.6" height="3.6" fill="#0c0c0c"/><rect x="-913.7" y="7.4" width="4.0" height="3.2" fill="#121212"/><rect x="-904.4" y="-4.8" width="4.6" height="3.6" fill="#0c0c0c"/><rect x="-895.1" y="7.4" width="4.0" height="3.2" fill="#121212"/><rect x="-885.8" y="-4.8" width="4.6" height="3.6" fill="#0c0c0c"/><rect x="-876.5" y="7.4" width="4.0" height="3.2" fill="#121212"/><rect x="-867.2" y="-4.8" width="4.6" height="3.6" fill="#0c0c0c"/><rect x="-857.9" y="7.4" width="4.0" height="3.2" fill="#121212"/><rect x="-848.6" y="-4.8" width="4.6" height="3.6" fill="#0c0c0c"/><rect x="-839.3" y="7.4" width="4.0" height="3.2" fill="#121212"/><rect x="-1020" y="1.8" width="192" height="2.6" fill="#fbfbfb"/></g><g filter="url(#soft)"><rect x="-828" y="-11.5" width="15" height="7.75" fill="url(#cgradLight)"/><rect x="-828" y="-4.25" width="15" height="7.25" fill="#161616"/><rect x="-828" y="3" width="15" height="9.5" fill="url(#cgradL)"/><rect x="-828" y="1.8" width="15" height="2.6" fill="#f4f4f4"/></g><g filter="url(#soft)"><rect x="-1068" y="-12" width="48" height="15" fill="url(#cgradU)"/><rect x="-1068" y="3" width="48" height="10.5" fill="url(#cgradL)"/><rect x="-1068" y="1.8" width="48" height="2.6" fill="#f4f4f4"/></g><polygon points="-232.6,-8.2 -232.0,14.7 -249.1,15.2 -253.2,19.4 -268.2,17.8 -269.3,-12.1 -254.7,-13.4 -249.7,-9.3" fill="url(#dgrad65)"/><polygon points="-644.9,-7.5 -644.8,11.2 -675.8,10.6 -673.3,-11.6" fill="url(#dgrad)"/><path d="M-677,11.5 Q-684,14 -690,5.4" stroke="#9a9a9a" stroke-width="1" fill="none"/><polygon points="-270.6,-12.5 -278.3,-10.3 -294.6,-8.0 -305.9,-5.1 -317.9,-4.3 -319.4,-11.4 -326.4,-7.1 -344.8,-5.5 -357.5,-5.4 -363.2,-11.1 -402.0,-0.2 -364.8,11.9 -361.7,3.1 -351.1,5.1 -334.7,9.9 -321.3,14.8 -319.2,11.2 -317.1,6.3 -314.3,6.2 -297.3,8.9 -285.9,11.7 -274.6,14.4 -270.4,13.0" fill="#ececec" stroke="#c8c8c8" stroke-width="0.8"/><polyline points="-363.2,-11.1 -402.0,-0.2" stroke="#5a5a5a" stroke-width="1.9" fill="none"/><polyline points="-402.0,-0.2 -364.8,11.9" stroke="#262626" stroke-width="2.6" fill="none"/><polygon points="-686.5,-5.3 -688.2,3.6 -782.8,3.4 -804.1,-7.0" fill="url(#b3grad)"/><polyline points="-704.0,11.4 -771.2,11.3 -783.8,4.1" stroke="#a8a8a8" stroke-width="1" fill="none"/><rect x="18.6" y="-0.8" width="70" height="6.4" fill="#1e1e1e"/><rect x="86" y="-4.5" width="10.5" height="13.5" fill="#f2f2f2" stroke="#333" stroke-width="1.2"/><rect x="90" y="-1" width="3" height="6.5" fill="#222"/><rect x="18.6" y="1.7" width="68" height="1.2" fill="#555"/><polygon points="96.4,-11.3 115.0,-12.0 128.8,-5.5 128.4,8.6 121.0,16.1 97.7,17.3" fill="#2e2e2e"/><polygon points="128.0,-6.3 156.4,-5.9 157.6,8.9 128.4,8.6" fill="#1a1a1a"/><rect x="100" y="0.5" width="56" height="2" fill="#555"/></g><polygon points="94.2,999.5 45.6,1049.9 42.8,1060.0 43.8,1078.3 59.3,1127.8 66.7,1133.3 134.5,1142.5 206.0,1062.2 195.9,1049.9 182.5,1036.2 178.9,1021.5 169.3,995.8 158.3,1003.5 147.3,1003.2 131.8,987.6 115.3,977.5" fill="#f6f6f6"/><polygon points="115.3,978.7 122.7,983.3 132.0,988.7 146.7,1002.0 156.0,1003.3 165.3,999.3 177.3,1023.3 180.0,1036.7 193.3,1048.7 205.3,1062.0 190.7,1066.0 161.3,1067.3 152.0,1090.0 145.3,1068.7 134.7,1076.7 129.3,1086.0 128.0,1095.3 118.7,1099.3 76.0,1107.3 86.7,1087.3 84.7,1071.3 82.7,1055.3 98.7,1052.7 108.0,1042.0 112.0,1030.0 106.7,1023.3 92.0,1031.3 100.0,1015.3 110.7,1012.7 113.3,1002.0" fill="#bdbdbd"/><polygon points="147.0,1006.0 116.0,1060.7 118.7,1068.0 124.0,1068.7 177.0,1021.0 161.0,1002.0" fill="#cfcfcf" stroke="#505050" stroke-width="1.2"/><polyline points="94.2,999.5 45.6,1049.9 42.8,1060.0 43.8,1078.3 59.3,1127.8 66.7,1133.3 134.5,1142.5" stroke="#333" stroke-width="1.8" fill="none"/><path d="M131.5,987.5 L144,999 Q150,1004 157,1002.5 L162,1000 L178,984.5" stroke="#1a1a1a" stroke-width="2.4" fill="none"/><polyline points="178.9,1021.5 182.5,1036.2 196.8,1049.9" stroke="#222" stroke-width="2.2" fill="none"/><circle cx="172" cy="1055.3" r="6.5" fill="#fafafa"/><path d="M128,1007.5 l1.5,3.5 3.8,0.3 -2.9,2.4 1,3.7 -3.4,-2 -3.4,2 1,-3.7 -2.9,-2.4 3.8,-0.3z" fill="#fafafa"/><path d="M188,1071 q-4,3 -1,8" stroke="#444" stroke-width="1.2" fill="none"/><circle cx="170" cy="983" r="4.5" fill="#555"/><circle cx="170" cy="983" r="2" fill="#ccc"/><rect x="194" y="1007" width="8" height="9" fill="#444" transform="rotate(-44 198 1011)"/><path d="M1062,96 C1060,72 1068,48 1096,31 C1122,15 1146,5 1168,-4" stroke="#505050" stroke-width="4.2" fill="none"/><path d="M1062,96 C1060,72 1068,48 1096,31 C1122,15 1146,5 1168,-4" stroke="#8c8c8c" stroke-width="1.3" stroke-dasharray="2 3" fill="none"/><path d="M1095,127 C1120,120 1142,102 1158,76 C1172,52 1184,26 1193,-4" stroke="#505050" stroke-width="4.2" fill="none"/><path d="M1095,127 C1120,120 1142,102 1158,76 C1172,52 1184,26 1193,-4" stroke="#8c8c8c" stroke-width="1.3" stroke-dasharray="2 3" fill="none"/><polygon points="1090.0,84.0 1100.0,80.0 1112.0,78.0 1110.0,90.0 1104.0,100.0" fill="#7a7a7a"/><polygon points="1050.0,113.0 1078.0,85.0 1094.0,82.0 1108.0,88.0 1104.0,100.0 1106.0,110.0 1093.0,127.0 1075.0,139.0" fill="url(#capgrad)"/><line x1="1055.0" y1="108.0" x2="1079.7" y2="133.4" stroke="#5a5a5a" stroke-width="1.3"/><line x1="1059.0" y1="104.0" x2="1083.3" y2="129.1" stroke="#5a5a5a" stroke-width="1.3"/><line x1="1062.9" y1="100.1" x2="1087.0" y2="124.7" stroke="#5a5a5a" stroke-width="1.3"/><line x1="1066.8" y1="96.2" x2="1090.6" y2="120.4" stroke="#5a5a5a" stroke-width="1.3"/><line x1="1070.7" y1="92.3" x2="1094.2" y2="116.1" stroke="#5a5a5a" stroke-width="1.3"/><polygon points="1037.5,125.8 1049.2,112.5 1073.3,138.3 1060.8,150.8" fill="url(#capgrad2)"/><line x1="1049" y1="112.5" x2="1074" y2="138.5" stroke="#111" stroke-width="2.6"/>
<circle cx="91" cy="706" r="35" fill="#b60303"/><text x="91" y="726.5" text-anchor="middle" font-family="Liberation Sans" font-weight="bold" font-size="63" fill="#fff" stroke="#fff" stroke-width="0.8">1</text><circle cx="608" cy="1019" r="35" fill="#b60303"/><text x="608" y="1039.5" text-anchor="middle" font-family="Liberation Sans" font-weight="bold" font-size="63" fill="#fff" stroke="#fff" stroke-width="0.8">2</text><circle cx="273" cy="723" r="35" fill="#b60303"/><text x="273" y="743.5" text-anchor="middle" font-family="Liberation Sans" font-weight="bold" font-size="63" fill="#fff" stroke="#fff" stroke-width="0.8">3</text><circle cx="421" cy="525" r="35" fill="#b60303"/><text x="421" y="545.5" text-anchor="middle" font-family="Liberation Sans" font-weight="bold" font-size="63" fill="#fff" stroke="#fff" stroke-width="0.8">4</text><circle cx="936" cy="600" r="35" fill="#b60303"/><text x="936" y="620.5" text-anchor="middle" font-family="Liberation Sans" font-weight="bold" font-size="63" fill="#fff" stroke="#fff" stroke-width="0.8">5</text><circle cx="1138" cy="446" r="35" fill="#b60303"/><text x="1138" y="466.5" text-anchor="middle" font-family="Liberation Sans" font-weight="bold" font-size="63" fill="#fff" stroke="#fff" stroke-width="0.8">6</text><circle cx="677" cy="146" r="35" fill="#b60303"/><text x="677" y="166.5" text-anchor="middle" font-family="Liberation Sans" font-weight="bold" font-size="63" fill="#fff" stroke="#fff" stroke-width="0.8">7</text><circle cx="752" cy="78" r="35" fill="#b60303"/><text x="752" y="98.5" text-anchor="middle" font-family="Liberation Sans" font-weight="bold" font-size="63" fill="#fff" stroke="#fff" stroke-width="0.8">8</text><circle cx="1103" cy="245" r="35" fill="#b60303"/><text x="1103" y="265.5" text-anchor="middle" font-family="Liberation Sans" font-weight="bold" font-size="63" fill="#fff" stroke="#fff" stroke-width="0.8">9</text>
</svg></body></html>
